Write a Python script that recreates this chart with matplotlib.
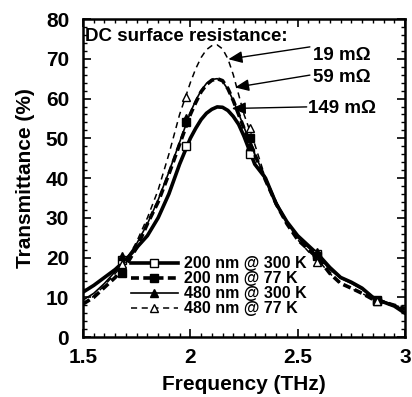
import matplotlib
matplotlib.use('Agg')
import matplotlib.pyplot as plt
from matplotlib.ticker import MultipleLocator

plt.rcParams['font.family'] = ['Liberation Sans', 'DejaVu Sans']
plt.rcParams['font.weight'] = 'bold'

# frequency grid (THz)
freq = [1.5, 1.55, 1.6, 1.65, 1.7, 1.75, 1.8, 1.85, 1.9, 1.95, 2.0, 2.025, 2.05, 2.075,
        2.1, 2.125, 2.15, 2.175, 2.2, 2.225, 2.25, 2.3, 2.35, 2.4, 2.45, 2.5, 2.55,
        2.6, 2.65, 2.7, 2.75, 2.8, 2.85, 2.9, 2.95, 3.0]

# transmittance (%)
t200_300 = [11.3, 13, 15, 17, 19.5, 22.5, 25.5, 30, 36, 43.5, 50, 52.5, 54.7, 56.3,
            57.3, 57.9, 57.8, 57, 55.5, 53.5, 50.5, 43.5, 40, 33.5, 29, 25.5, 23,
            20.5, 17.5, 15, 13.8, 12.3, 10, 8.8, 7.8, 6]
t200_77 = [8.3, 10, 12.5, 15, 18, 22.5, 28.5, 34, 41, 48.5, 56, 59, 61.7, 63.5,
           64.6, 65, 64.5, 62.5, 59.5, 56, 52.5, 46, 39.5, 33.5, 28.5, 24.5, 22,
           19.5, 16, 13.5, 12.3, 11, 9.5, 8.8, 8, 7.2]
t480_300 = [9.3, 11, 13.5, 16.5, 19.5, 23.5, 28.5, 34.5, 41.5, 49, 56.5, 59.5, 62, 63.8,
            64.8, 65, 64.3, 62.3, 59.5, 56.2, 52.8, 46, 40, 34, 29, 25, 22.5,
            20, 17, 14.8, 13.5, 12, 10.2, 9, 8, 6.8]
t480_77 = [8.5, 10.3, 13, 16, 19, 24, 30, 37, 46, 56, 64, 67.5, 70.3, 72.3,
           73.3, 73.5, 72.5, 70, 66, 61, 56, 48.5, 40, 33.5, 28.5, 24.5, 21.5,
           19, 16, 13.5, 12.2, 11, 9.5, 8.8, 8, 7.3]

# marker positions
mk_freq = [1.68, 1.98, 2.28, 2.59, 2.87]
mk_200_300 = [19.5, 48, 46, 21, 9]
mk_200_77 = [16, 54, 50, 20.5, 9.2]
mk_480_300 = [20.5, 55, 48, 21.5, 9.3]
mk_480_77 = [18.5, 60.4, 52.5, 19, 9]

labels = ['200 nm @ 300 K', '200 nm @ 77 K', '480 nm @ 300 K', '480 nm @ 77 K']

fig = plt.figure(figsize=(4.12, 3.97), dpi=100)
ax = fig.add_axes([0.2015, 0.151, 0.7815, 0.801])

styles = [
    dict(ls='-', lw=2.6, marker='s', mfc='white'),
    dict(ls=(0, (2.2, 1.2)), lw=2.6, marker='s', mfc='black'),
    dict(ls='-', lw=1.2, marker='^', mfc='black'),
    dict(ls=(0, (4, 3)), lw=1.1, marker='^', mfc='white'),
]
curves = [t200_300, t200_77, t480_300, t480_77]
marks = [mk_200_300, mk_200_77, mk_480_300, mk_480_77]

handles = []
for y, m, st, lab in zip(curves, marks, styles, labels):
    ax.plot(freq, y, color='black', ls=st['ls'], lw=st['lw'])
    ax.plot(mk_freq, m, ls='none', marker=st['marker'], mfc=st['mfc'],
            mec='black', ms=6, mew=1)
    h, = ax.plot([], [], color='black', ls=st['ls'], lw=st['lw'], marker=st['marker'],
                 mfc=st['mfc'], mec='black', ms=6, mew=1, label=lab)
    handles.append(h)

ax.legend(handles=handles, loc='lower left', bbox_to_anchor=(0.13, 0.045), frameon=False,
          fontsize=11.5, handlelength=2.9, handletextpad=0.4, labelspacing=0.0,
          borderaxespad=0.0)

ax.text(1.51, 75.5, 'DC surface resistance:', fontsize=13.5, fontweight='bold',
        va='center', ha='left')
ann = [('19 m\u03a9', (2.177, 69.9), (2.557, 73), (2.571, 70.9)),
       ('59 m\u03a9', (2.208, 62.8), (2.557, 65.9), (2.571, 65.3)),
       ('149 m\u03a9', (2.193, 57.5), (2.542, 57.9), (2.548, 57.5))]
for txt, tip, tail, pos in ann:
    ax.annotate('', xy=tip, xytext=tail,
                arrowprops=dict(arrowstyle='-|>,head_length=0.7,head_width=0.3',
                                lw=1, color='black', mutation_scale=12,
                                shrinkA=0, shrinkB=0))
    ax.text(pos[0], pos[1], txt, fontsize=13.5, fontweight='bold', va='center', ha='left')

ax.set_xlim(1.5, 3)
ax.set_ylim(0, 80)
ax.xaxis.set_major_locator(MultipleLocator(0.5))
ax.xaxis.set_minor_locator(MultipleLocator(0.05))
ax.yaxis.set_major_locator(MultipleLocator(10))
ax.yaxis.set_minor_locator(MultipleLocator(2))
ax.set_xticks([1.5, 2, 2.5, 3])
ax.set_xticklabels(['1.5', '2', '2.5', '3'])
ax.tick_params(which='both', direction='in', top=True, right=True, labelsize=15)
ax.tick_params(which='major', length=6, width=1.2)
ax.tick_params(axis='x', which='major', pad=8)
ax.tick_params(axis='y', which='major', pad=10)
ax.tick_params(which='minor', length=3, width=1)
for s in ax.spines.values():
    s.set_linewidth(1.8)

ax.set_xlabel('Frequency (THz)', fontsize=15, fontweight='bold', labelpad=6)
ax.set_ylabel('Transmittance (%)', fontsize=15, fontweight='bold', labelpad=8)

fig.savefig('out.png', dpi=100)
